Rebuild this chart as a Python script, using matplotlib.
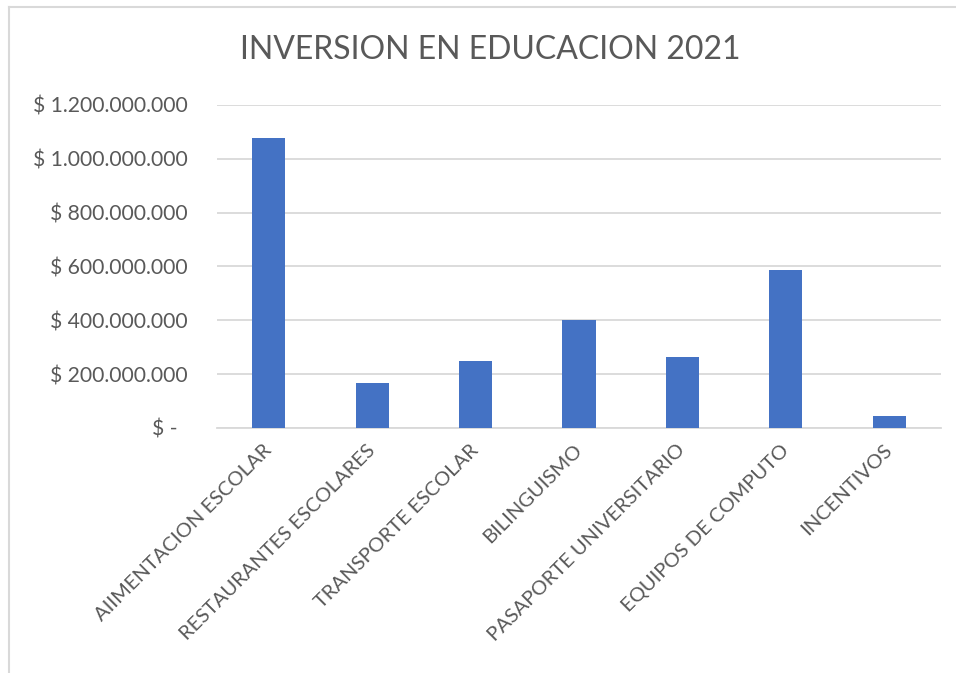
import matplotlib.pyplot as plt
from matplotlib.lines import Line2D
from matplotlib.ticker import FuncFormatter

# datos
categorias = ["AIIMENTACION ESCOLAR", "RESTAURANTES ESCOLARES", "TRANSPORTE ESCOLAR",
              "BILINGUISMO", "PASAPORTE UNIVERSITARIO", "EQUIPOS DE COMPUTO", "INCENTIVOS"]
inversion = [1078e6, 167e6, 248e6, 400e6, 264e6, 586e6, 45e6]
y_ticks = [0, 200e6, 400e6, 600e6, 800e6, 1000e6, 1200e6]

plt.rcParams['font.family'] = ['Lato', 'DejaVu Sans']
gris = '#595959'
linea = '#D9D9D9'


def formato_pesos(v, pos):
    if v == 0:
        return "$ -  "
    return "$ " + f"{v:,.0f}".replace(",", ".")


fig = plt.figure(figsize=(9.56, 6.73), dpi=100)
ax = fig.add_axes([217 / 956, 1 - 428 / 673, 724 / 956, 323 / 673])

x = range(len(categorias))
ax.bar(x, inversion, width=0.32, color='#4472C4', zorder=3)

ax.set_xlim(-0.5, len(categorias) - 0.5)
ax.set_ylim(0, 1200e6)
ax.set_yticks(y_ticks)
ax.yaxis.set_major_formatter(FuncFormatter(formato_pesos))
ax.grid(axis='y', color=linea, linewidth=1.3, zorder=0)

for s in ['top', 'right', 'left']:
    ax.spines[s].set_visible(False)
ax.spines['bottom'].set_color(linea)
ax.spines['bottom'].set_linewidth(1.3)

ax.tick_params(axis='both', length=0, colors=gris, labelsize=14.5)
ax.tick_params(axis='y', pad=21, labelsize=15.2)
ax.set_xticks(list(x))
ax.set_xticklabels(categorias, rotation=45, ha='right', rotation_mode='anchor',
                   va='center')
ax.tick_params(axis='x', pad=14)

fig.text(490 / 956, 1 - 50 / 673, "INVERSION EN EDUCACION 2021", ha='center',
         va='center', fontsize=23, color=gris)

# borde del area del grafico
fig.add_artist(Line2D([8.5 / 956, 8.5 / 956], [0, 1 - 7 / 673], color=linea,
                      linewidth=1.5, transform=fig.transFigure))
fig.add_artist(Line2D([8.5 / 956, 1], [1 - 7 / 673, 1 - 7 / 673], color=linea,
                      linewidth=1.5, transform=fig.transFigure))

fig.savefig("out.png", dpi=100)
